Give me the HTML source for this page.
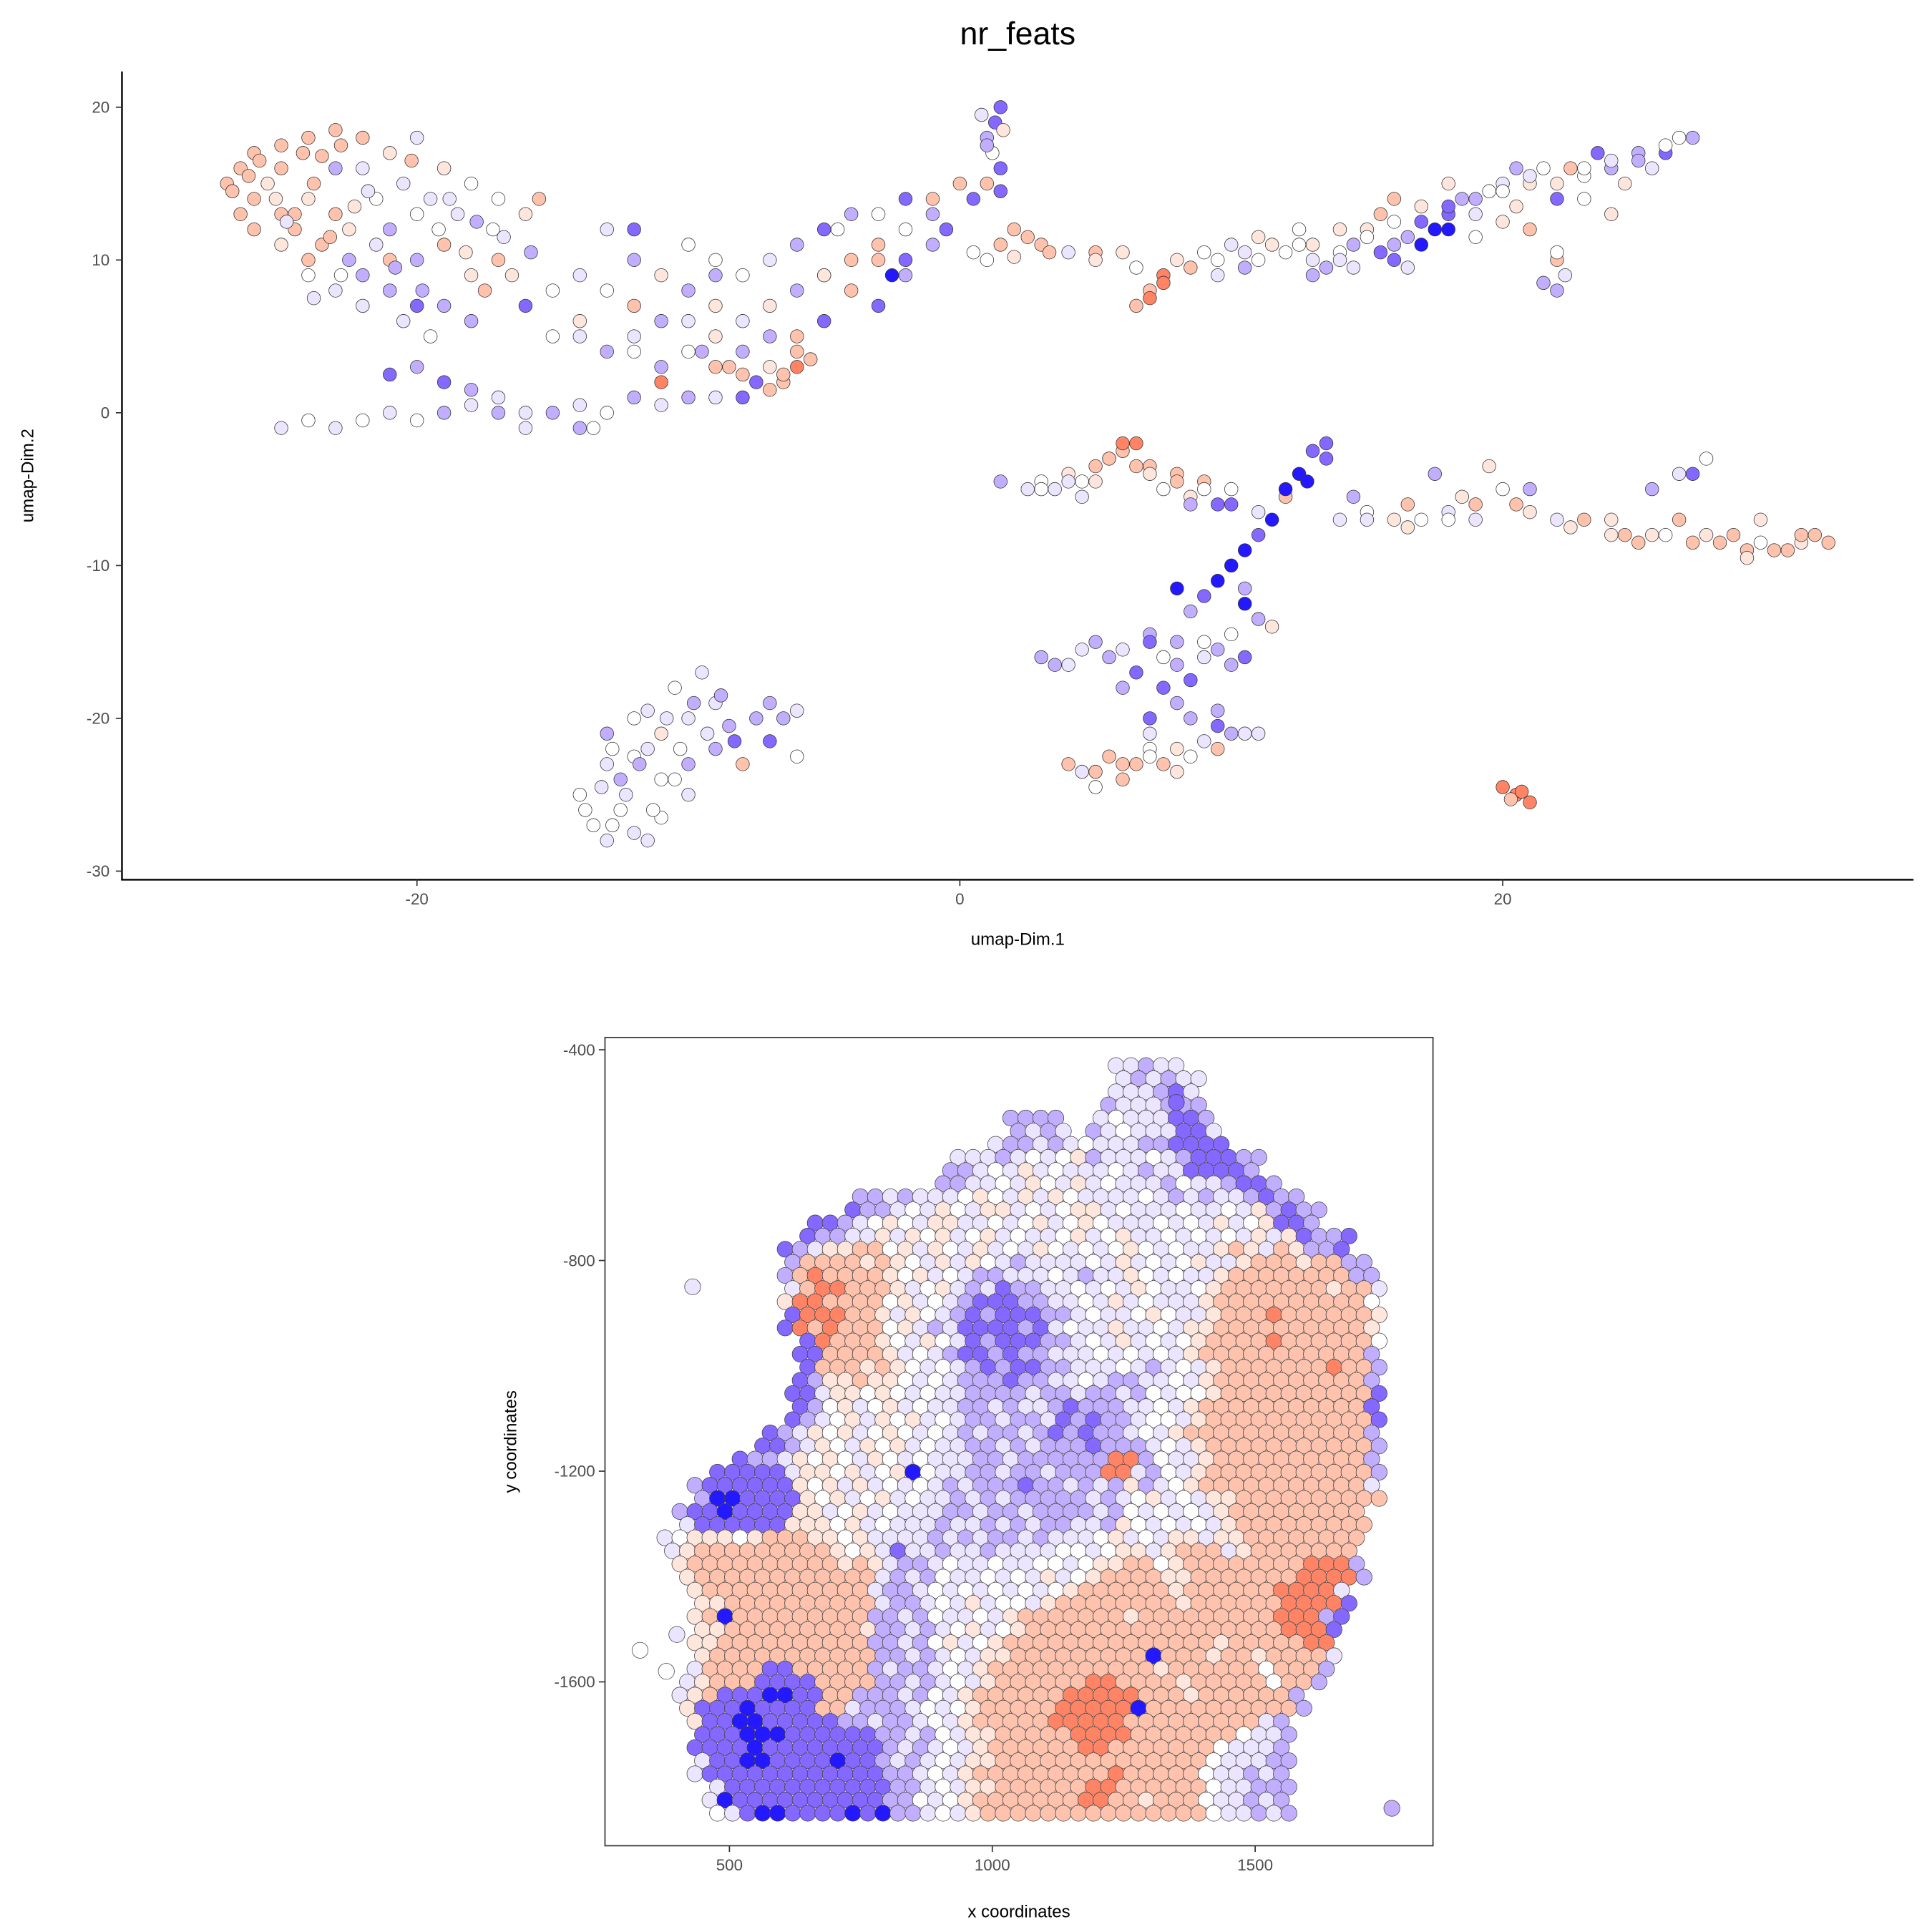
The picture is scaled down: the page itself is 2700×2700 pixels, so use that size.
<!DOCTYPE html>
<html><head><meta charset="utf-8"><style>
html,body{margin:0;padding:0;background:#fff}
svg{display:block}
text{font-family:"Liberation Sans",sans-serif}
</style></head><body>
<svg id="fig" width="2700" height="2700" viewBox="0 0 1568 1568" xmlns="http://www.w3.org/2000/svg">
<text x="826" y="36" font-size="26" text-anchor="middle" fill="#000">nr_feats</text>
<g id="umap"></g>
<g id="spat"></g>
</svg>
<script>
const colorFill = {R:'#ff8466',r:'#ffc2ad',e:'#ffe6dc',w:'#ffffff',l:'#ece5ff',p:'#c2aeff',b:'#8468ff',B:'#2418ff'};

const umapXTicks = [-20, 0, 20];
const umapYTicks = [20, 10, 0, -10, -20, -30];
const umapX = [-27,-26.5,-26,-26,-25.5,-25,-25,-24.5,-24,-24,-23.5,-23,-23,-22.5,-22,-22,-21.5,-21,-21,-20.5,-20,-20,-19.5,-19,-19,-18.5,-18,-18,-17,-17,-16,-15.5,-22,-23,-24,-21,-20,-22,-19,-25,-26.5,-24,-23,-20,-21,-18,-20.5,-19.5,-17.5,-16.5,-15,-16,-14,-13,-12,-11,-10,-13,-12,
-25,-24,-23,-22,-21,-20,-19,-18,-17,-16,-15,-14,-13,-12,-11,-10,-9,-8,-19,-18,-21,-20,-17,-16,-14,-13.5,
-15,-14,-13,-12,-11,-10,-10,-9,-8,-8,-7,-6,-5,-4,-3,-2,-6,-5,-4,-3,-2,-1,0,0.5,1,-8,-7,-9,-4,-5,-3,-6,-7,-8.5,-8,-6,-6.5,-7,-6,-9,-12,-10,-2.5,-1,-2,-9,
1,1.3,1.5,1.2,1.5,1,1.6,0.8,1.5,-0.5,
1,1.5,2,2.5,3,3.3,2,0.5,
4,5,6,6.5,7,7.5,7,6.5,8,9,10,11,12,13,13.5,14,14.5,15,15.5,16,16.5,17,17.5,18,18.5,19,17,16,19.5,20,20.5,21,21.5,22,22.5,23,23.5,24,24.5,25,25.5,26,26.5,27,21,20,19,22,13,11,15.5,18,23,24,16.5,12.5,9.5,10.5,14,
21.5,22,22.3,22,
1.5,2.5,3,3.5,4,5,5.5,6,6.5,5,6.5,4.5,7,4.5,7.5,8,8.5,9,9.5,10,8.5,11,12,12.5,13.5,14,14.5,15,16,16.5,17,18,18.5,17.5,19.5,20,20.5,21,22,23,24,25,26,26.5,27,27.5,27.5,28.5,29,29.5,30,31,31.5,32,29.5,25.5,24,26.5,21,19,
13,13.5,12.8,12,11.5,11,10.5,10,9.5,10.5,9,8,8.5,10.5,11,11.5,
3,4,5,6,6.5,7,7.5,8,8.5,9,9.5,10,10.5,8,7,6,9,9.5,10,10.5,4,4.5,5,6,6.5,7,7.5,8,8.5,9.5,5.5,7,
-14,-13.5,-13,-12.5,-13,-13,-12,-11.5,-11,-12,-11,-11,-10.5,-10,-10,-9.5,-9,-9,-8.5,-8,-7.5,-7,-6.5,-6,-6,-7,-12.5,-11.5,-10,-12,
20,20.5,21,20.3,20.7,
-26.8,-26.2,-25.8,-25.2,-24.8,-24.2,-23.8,-23.2,-22.8,-22.3,-26,-25,-24.5,-23.5,-22.5,-21.5,-20.8,-19.8,-19.2,-18.2,-17.8,-16.8,-21.8,-22.8,-23.8,-24.8,-20.2,-18.8,-17.2,-15.8,
5,7.5,8.5,9.5,10.5,11.5,12.5,13,14,15,16,17,18,19,20,21,22,23,24,25,26,14.5,16,18,20.5,
3,4,5.5,6,7,8,9,10,15,16.5,18,19,22.5,24.5,25.5,27,28,29,30.5,31,
3.5,4.5,5.5,7,8,9,10,11,7.5,8.5,9.5,5,6,7,8,
-13.8,-13.2,-12.8,-12.3,-11.8,-11.3,-10.8,-10.3,-9.8,-9.3,-8.8,-8.3,-12.8,-11.5,-10.5,
-14,-12,-11,-9,-7,-5,-3,-1,-7.5,-6.5,-5.5,-11,-9.5,-4.5,-2];
const umapY = [15,16,14,17,15,13,17.5,12,18,14,11,18.5,13,12,18,16,14,17,12,15,13,10,14,16,11,13,15,9,14,10,13,14,9,8,10,8,7,7,7,11,13,9,16,18,10,6,6,5,8,9,8,7,9,8,7,9,8,12,10,
-1,-0.5,-1,-0.5,0,-0.5,0,0.5,0,-1,0,0.5,0,1,0.5,1,1,1,2,1.5,2.5,3,1,0,-1,-1,
5,6,4,5,3,4,6,5,4,6,7,8,9,8,10,9,11,12,13,13,14,13,15,14,15,9,10,10,10,6,7,5,3,3,2.5,3,2,1.5,4,9,12,11,9,11,12,3,
18,19,20,17,16,17.5,18.5,19.5,14.5,12,
10,11,12,11.5,11,10.5,10.2,10.5,
10.5,10.5,10.5,9.5,8,9,7.5,7,10,10.5,11,11.5,10.5,10,9.5,10.5,11,12,10.5,12.5,11.5,11,12,13,14,13,13.5,14,14.5,15,16,15,16,14,16,15.5,17,16,15,17,16,17,18,18,12,12.5,11.5,10,11,10,13,15,14,13,9.5,12,9,9.5,12,
8.5,8,9,10.5,
-4.5,-5,-4.5,-5,-4,-3.5,-3,-2.5,-2,-4.5,-3.5,-4.5,-3.5,-5.5,-5,-4,-5.5,-4.5,-6,-5,-6,-6.5,-5.5,-4,-3,-7,-5.5,-6.5,-7,-6,-7,-6.5,-5.5,-4,-3.5,-5,-6,-6.5,-7,-7,-8,-8.5,-8,-7,-4,-3,-8,-8,-9,-8.5,-9,-8.5,-8,-8.5,-7,-5,-7,-4,-5,-7,
-2.5,-2,-4.5,-5,-7,-8,-9,-10,-11,-11.5,-12,-11.5,-13,-12.5,-13.5,-14,
-16,-16.5,-15,-15.5,-17,-14.5,-16,-15,-17.5,-16,-15.5,-14.5,-16,-19,-20,-18,-21.5,-20.5,-21,-21,-23,-23.5,-24.5,-24,-23,-22,-23,-23.5,-22.5,-22,-22.5,-21,
-25,-27,-28,-26,-23,-21,-20,-22,-24,-27.5,-26.5,-21,-18,-20,-23,-17,-19,-22,-20.5,-23,-20,-21.5,-20,-19.5,-22.5,-19,-24,-19.5,-25,-22.5,
-24.5,-25,-25.5,-25.3,-24.8,
14.5,15.5,16.5,14,12.5,17,15,11.5,17.5,13.5,12,16,13,16.8,10,11,9.5,8,12,10.5,12.5,11.5,14.5,9,7.5,12.5,16.5,14,12,10.5,
10,8.5,9.5,10,10.5,11,11,9,10,11.5,11,12.5,13.5,14,14.5,15.5,15,16,16.5,16.5,17.5,9.5,10,12,13.5,
-5,-4.5,-3,-2,-4,-4.5,-5,-6,-7,-7.5,-7,-6,-7.5,-8,-8,-8.5,-8.5,-9.5,-9,-8,
-16.5,-15.5,-16,-15,-16.5,-15,-16.5,-21,-18,-20,-19.5,-23.5,-23,-22.5,-22,
-26,-24.5,-22,-25,-23,-26,-20,-22,-19,-21,-18.5,-21.5,-27,-28,-24,
5,4,6,7,5,9,11,14,2,2.5,3.5,2,4,12,10];
const umapC = (
 "rrrrerrrrerrrerlweplwplerlwewrerplrpblperwplrplwrewblwreplp" +
 "lwlwlwplplplwplplbbpbpllpw" +
 "weplpwlepleperrppbpwbprbrwlwrbbrerrRrrrpbwBpwr" +
 "pbbwbpelbb" +
 "wrrrrrew" +
 "lrewrRRrewlewlpwpebwpBBbplerwlpewbrwbpeplbwpr" + "ewrewrewelwlpe" +
 "pplw" +
 "plwlerrrRerwrlwrerbwplrBblpwerwlepewrelrerwrbwerrwrerrepelpl" +
 "bbBBBbBBBpbBpBpe" +
 "plplbpwpblpwbpbplbplrlwrrwrewrrl" +
 "wwlwlpwlwlwewlpllpprpbplwppllw" +
 "RRRrR" +
 "rrrerrrrrerrrrplppwepllwllrlwpe" .slice(0,30) +
 "eRrwlewplwpbbpwlewlpwlbBe" +
 "wlrRerwblewrererrerrw".slice(0,20) +
 "plpbpwplbpprrwe" +
 "wlwlpwlwplpbwlw" +
 "lwpepercbrrRpwbr".replace('c','r').slice(0,15)
).split('');
</script>
<script>
const NS='http://www.w3.org/2000/svg';
function mk(tag, attrs, parent){const e=document.createElementNS(NS,tag);for(const k in attrs)e.setAttribute(k,attrs[k]);parent.appendChild(e);return e;}
/* ---------- UMAP ---------- */
const U = document.getElementById('umap');
const ux = v => 779 + v*22.03;
const uy = v => 335 - v*12.4;
const n = Math.min(umapX.length, umapY.length);
for(let i=0;i<n;i++){
  const c = umapC[i] || 'w';
  const el = mk('circle',{cx:ux(umapX[i]),cy:uy(umapY[i]),r:5.4,fill:colorFill[c]||'#fff',stroke:'#333','stroke-width':0.45},U);
  
  
}
let a = mk('line',{x1:99,y1:58,x2:99,y2:714.5,stroke:'#000','stroke-width':1.4},U);

a = mk('line',{x1:98.3,y1:714,x2:1553,y2:714,stroke:'#000','stroke-width':1.4},U);

umapXTicks.forEach(t=>{
  mk('line',{x1:ux(t),y1:714,x2:ux(t),y2:719,stroke:'#333','stroke-width':1},U);
  const tx = mk('text',{x:ux(t),y:734,'font-size':13,'text-anchor':'middle',fill:'#4d4d4d'},U);
  tx.textContent=t;
  
});
umapYTicks.forEach(t=>{
  mk('line',{x1:94,y1:uy(t),x2:99,y2:uy(t),stroke:'#333','stroke-width':1},U);
  const tx = mk('text',{x:89,y:uy(t)+4.5,'font-size':13,'text-anchor':'end',fill:'#4d4d4d'},U);
  tx.textContent=t;
  
});
let lab = mk('text',{x:826,y:767,'font-size':14,'text-anchor':'middle',fill:'#000'},U);
lab.textContent='umap-Dim.1';
lab = mk('text',{x:27,y:386,'font-size':14,'text-anchor':'middle',fill:'#000',transform:'rotate(-90 27 386)'},U);
lab.textContent='umap-Dim.2';
</script>
<script>
/* ---------- Spatial ---------- */
const spatXTicks = [500, 1000, 1500];
const spatYTicks = [-400, -800, -1200, -1600];
const spatRows = [
"................................llpll",
"................................lplpll",
"................................lllpbl",
"...............................plllppp",
".........................pppp..lwlllbbp",
".........................plpl.plwlllbbl",
"........................lpplplwlllppbbbb",
".....................lllplwlweplllwlpbbbpp",
".....................pplwlelwlllwlpllbbbbp",
"....................ppllwlewlelwlllpwllpbbp",
"...............pplplllwewlelewllllwlplpllpbpp",
"..............bpplwlewleelwlweelwlllwllwlepbpp",
"............bbplwewleellwlwelwewlllwlwlelwebbp",
"...........bppllelewelwelwllwelwellwlwlwlelebppb",
"..........bpleerrwelewlelwlewlwlwewlwllerelreppb",
"..........prrrrerewlelewlpllllwlelwlwellerrrerrpp",
"..........prRrrrrewelwlpplllwlpllewlwllerrrrrrrrpp",
"..........lrRRrrrelwelplbppllwlwlewllwerrrrrrrerrl",
"..........eRRrrrrwelwlpbbbppllwlelwlllerrrrrrrrrrw",
"..........bRRRrrelewlpbpbbbpplwllwewllerrrRrrrrrre",
"..........bRrRrrrwelplbbbbpblwllellwleerrrrrrrrrre",
"...........bRrrrewlewlbpbbbpplwlelwlwerrrrRrrrrrrw",
"...........bbrrrrelwlpbbpbpplllwlwlwlerrrrrrrrrrrp",
"...........brrrerewlwlpbpbbpplllwlplwlerrrrrrrRrrp",
"...........bpeereewlwlpppbppllwlppllwlerrrrrrrrrrp",
"..........bbleewewlwllpppplpplpplpwlwwerrrrrrrrrrb",
"...........bpwelwelwllpplpllpbpppllwlerrrrrrrrrrrb",
"..........bplwelewelwlpplpplbpbpplwwlerrrrrrrrrrrb",
".........bplewelwewlwlplpplpbpbpplwlerrrrrrrrrrrrp",
"........bbplewlewelwllpplplpppbppplwlerrrrrrrrrrrp",
".......bpplewewlewlwlllpplppppppRRpwllerrrrrrrrrrp",
".....bbbbbleewelweBwllpplpplpppRRlpwlerrrrrrrrrrrp",
"....pbbbbbbewelelwlwlplpppbpplplpeplwerrrrrrrrrrrl",
"....pBBbbbbewelwelwllplplppppplplwelwleerrrrrrrrrr",
"...pbbBbbbbeelwelwlllpplpplpppplpwlwlwlerrrrrrrrr",
"...lbbbbbbeeewelwlllpllplplppllpewlwlwlerrrrrrrrr",
"..lweeewerrreewellllplplpplplllwelwleeleerrrrrrrr",
"..lerrrrrrrrrewelbllpllpllllwwlweelerrrlerrrrrrr",
"...errrrrrrrrrerelpplwllwllwwlweerrwerrrrrrrrRRRp",
"...errrrrrrrrrrrlplpwllwlwlelwerrrreerrrrrrrRRRRp",
"....errrrrrrrrrrlpplwlwlwlwlwerrrrrrerrrrrrRRRRl",
"....eerrrrrrrrrrlpplwlelwwlerrrrrrrrerrrrrrRRRRb",
"....erBrrrrrrrrrpplpwllwlerrrrrrrerrrrrrrrrRRRpb",
"....eerrrrrrrrrepplplwelwerrrrrrrrrrrrrrrrrRRRb",
"....eerrrrrrrrrrpplpwelwerrrrrrrrrrrrrrerrrrrRR",
"....errrrrrrrrrrpplplwleerrrrrrrrrBrrrerrerrrrl",
"....lrrrrbbrrrrrplpplwlerrrrrrrrrrrerrrrrrwrrrp",
"...lerrrbbbbrrrrpplplwlerrrrrrRRrrrrerrrrrwrrp",
"...lerbbbBBbbrrppplpwlerrrrrrRRRRRrrrerrrrrrp",
"...ebbbBbbbbrrlppplwlwerrrrrRRRRRBrrrrrrrrrrp",
"....ebbBBbbbbbpplpplwlerrrrrRRRRRrrrrrrrrrlp",
"....bbbBBBbbbbbbpplpwleerrrrrRRRRrrrrrrrwllp",
"....bbbbBbbbbbbbbplplwlerrrrrrRRrrrrrrrwlllp",
"....lbbBBbbbbBbbplplwleerrrrrrrrrrrrrrwlllpp",
"....lbbbbbbbbbbbbpplwlerrrrrrrrrRrrrrrwllplp",
".....lbbbbbbbbbbbpplwleerrrrrrRRrrrrrrwllppp",
".....lBbbbbbbbbbbppwlwerrrrrrrRRrrerrrwllplp",
".....wlbBBbbbbBbBpplwlerrrrrrrrrrrrrrrwllplp"
];
const outX = [430, 330, 380, 400, 1760, 1350];
const outY = [-850, -1540, -1580, -1510, -1840, -500];
const outC = ['l','w','w','l','p','b'];

const S = document.getElementById('spat');
const sx = v => 592 + (v-500)*0.4267;
const sy = v => 852 + (-400 - v)*0.4275;
const gridX0 = 320, gridDX = 28.6, gridY0 = -430, gridDY = 24.9;
spatRows.forEach((row,r)=>{
  row.split('').forEach((c,ci)=>{
    if(c==='.') return;
    const dx = gridX0 + ci*gridDX + (r%2 ? gridDX/2 : 0);
    const dy = gridY0 - r*gridDY;
    const el = mk('circle',{cx:sx(dx),cy:sy(dy),r:6.5,fill:colorFill[c],stroke:'#444','stroke-width':0.45},S);
    
    
  });
});
outX.forEach((v,i)=>{
  const el = mk('circle',{cx:sx(v),cy:sy(outY[i]),r:6.5,fill:colorFill[outC[i]],stroke:'#444','stroke-width':0.45},S);
  
  
});
let fr = mk('rect',{x:491,y:842,width:672,height:656,fill:'none',stroke:'#333','stroke-width':1},S);

spatXTicks.forEach(t=>{
  mk('line',{x1:sx(t),y1:1498,x2:sx(t),y2:1503,stroke:'#333','stroke-width':1},S);
  const tx = mk('text',{x:sx(t),y:1518,'font-size':13,'text-anchor':'middle',fill:'#4d4d4d'},S);
  tx.textContent=t;
  
});
spatYTicks.forEach(t=>{
  mk('line',{x1:486,y1:sy(t),x2:491,y2:sy(t),stroke:'#333','stroke-width':1},S);
  const tx = mk('text',{x:483,y:sy(t)+4.5,'font-size':13,'text-anchor':'end',fill:'#4d4d4d'},S);
  tx.textContent=t;
  
});
let l2 = mk('text',{x:827,y:1556,'font-size':14,'text-anchor':'middle',fill:'#000'},S);
l2.textContent='x coordinates';
l2 = mk('text',{x:419,y:1170,'font-size':14,'text-anchor':'middle',fill:'#000',transform:'rotate(-90 419 1170)'},S);
l2.textContent='y coordinates';
</script>
</body></html>
